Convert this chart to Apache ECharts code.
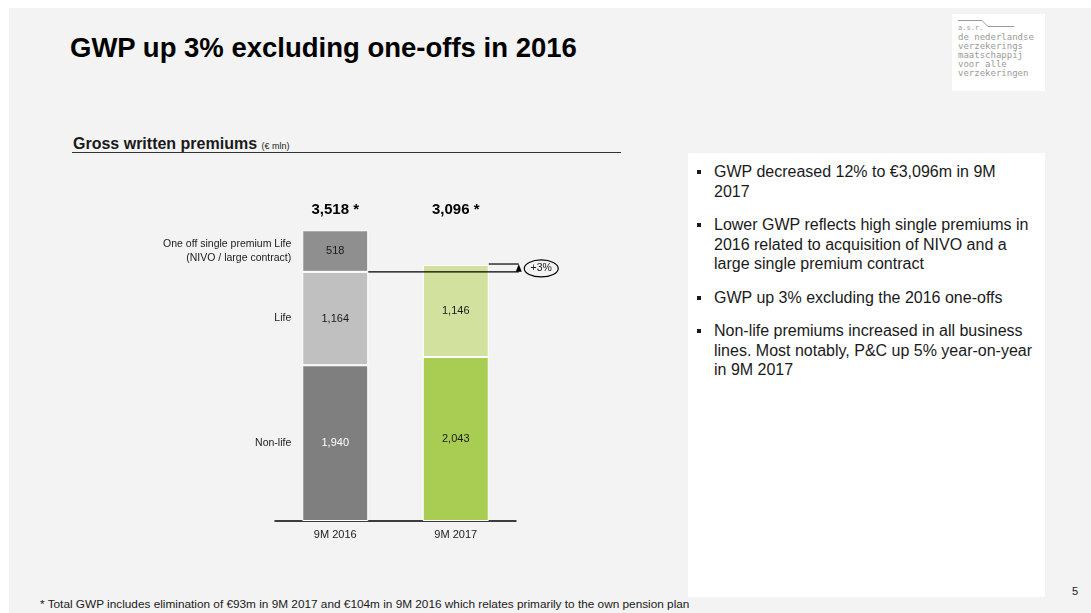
<!DOCTYPE html>
<html><head><meta charset="utf-8">
<script src="https://cdn.jsdelivr.net/npm/echarts@6/dist/echarts.min.js"></script>
<style>
html,body{margin:0;padding:0;width:1091px;height:613px;background:#fff;overflow:hidden;font-family:"Liberation Sans",Arial,sans-serif;color:#1a1a1a;}
#bg{position:absolute;left:9px;top:8px;right:0;bottom:0;background:#f3f3f3;}
#chart{position:absolute;left:0;top:0;width:1091px;height:613px;z-index:2;}
.title{position:absolute;left:70px;top:34px;font-size:27.5px;line-height:28px;font-weight:bold;color:#000;white-space:nowrap;}
.logo{position:absolute;left:952px;top:14px;width:93px;height:77px;background:#fff;}
.logo .t{position:absolute;left:6px;top:9px;font-family:"DejaVu Sans Mono",monospace;font-size:9px;line-height:8.9px;color:#9a9a9a;white-space:pre;}
.logo .t .s{font-size:7px;}
.sub{position:absolute;left:73px;top:135px;font-size:16px;font-weight:bold;white-space:nowrap;line-height:18px;}
.sub small{font-size:9px;font-weight:normal;}
.rule{position:absolute;left:72px;top:152px;width:549px;height:1px;background:#333;}
.panel{position:absolute;left:688px;top:153px;width:357px;height:444px;background:#fff;}
.panel ul{margin:0;padding:9px 0 0 26px;list-style:none;}
.panel li{position:relative;font-size:16px;line-height:19.5px;margin-bottom:14px;white-space:nowrap;color:#1a1a1a;}
.panel li:before{content:"";position:absolute;left:-17px;top:8px;width:4px;height:4px;background:#1a1a1a;}
.foot{position:absolute;left:40px;top:597px;font-size:11.8px;line-height:14px;white-space:nowrap;}
.pg{position:absolute;left:1072px;top:584px;font-size:11px;line-height:14px;}
</style></head>
<body>
<div id="bg"></div>
<div class="title">GWP up 3% excluding one-offs in 2016</div>
<div class="logo">
<svg width="93" height="20" style="position:absolute;left:0;top:0"><polyline points="6,6.5 30,6.5 36,12.5 62,12.5" fill="none" stroke="#9a9a9a" stroke-width="1"/></svg>
<div class="t"><span class="s">a.s.r.</span>
de nederlandse
verzekerings
maatschappij
voor alle
verzekeringen</div></div>
<div class="sub">Gross written premiums <small>(€ mln)</small></div>
<div class="rule"></div>
<div class="panel"><ul>
<li>GWP decreased 12% to €3,096m in 9M<br>2017</li>
<li>Lower GWP reflects high single premiums in<br>2016 related to acquisition of NIVO and a<br>large single premium contract</li>
<li>GWP up 3% excluding the 2016 one-offs</li>
<li>Non-life premiums increased in all business<br>lines. Most notably, P&amp;C up 5% year-on-year<br>in 9M 2017</li>
</ul></div>
<div class="foot">* Total GWP includes elimination of €93m in 9M 2017 and €104m in 9M 2016 which relates primarily to the own pension plan</div>
<div class="pg">5</div>
<div id="chart"></div>
<script>
// ---- data ----
const categories = ['9M 2016', '9M 2017'];
const totalLabels = ['3,518 *', '3,096 *'];
const nonLife = [1940, 2043];
const life = [1164, 1146];
const oneOff = [518, null];
const segmentNames = ['Non-life', 'Life', 'One off single premium Life\n(NIVO / large contract)'];
const growthLabel = '+3%';

// ---- styles ----
const BAR_W = 66;
const TXT = '#1a1a1a';
const colNonLife = ['#7f7f7f', '#a9cd52'];
const colLife = ['#c0c0c0', '#d3e19e'];
const colOneOff = ['#8f8f8f', '#8f8f8f'];
const lblNonLife = ['#ffffff', TXT];
const lblLife = [TXT, TXT];
const lblOneOff = [TXT, TXT];

const fmt = v => Number(v).toLocaleString('en-US');
function mk(vals, cols, lcols) {
  return vals.map((v, i) => v == null ? '-' : ({
    value: v, itemStyle: { color: cols[i] }, label: { color: lcols[i] }
  }));
}
const barBase = {
  type: 'bar', stack: 'gwp', barWidth: BAR_W,
  itemStyle: { borderColor: '#ffffff', borderWidth: 1 },
  label: { show: true, position: 'inside', fontSize: 11, formatter: p => fmt(p.value) }
};

// segment bounds of first bar for left labels
const seg0 = [nonLife[0], life[0], oneOff[0]];
const segData = [];
let acc = 0;
seg0.forEach((v, i) => { segData.push([0, acc, acc + v]); acc += v; });

const lifeTop2016 = nonLife[0] + life[0];
const top2017 = nonLife[1] + life[1];

const chart = echarts.init(document.getElementById('chart'), null, { renderer: 'canvas' });
chart.setOption({
  backgroundColor: 'transparent',
  animation: false,
  grid: { left: 275, right: 575, top: 224, bottom: 92 },
  xAxis: [{
    type: 'category', data: categories, position: 'bottom',
    axisLine: { lineStyle: { color: '#000', width: 1.5 } },
    axisTick: { show: false },
    axisLabel: { color: TXT, fontSize: 11, margin: 8, fontFamily: 'Liberation Sans' }
  }, {
    type: 'category', data: totalLabels, position: 'top',
    axisLine: { show: false }, axisTick: { show: false },
    axisLabel: { color: '#000', fontSize: 15, fontWeight: 'bold', margin: 7, fontFamily: 'Liberation Sans' }
  }],
  yAxis: { type: 'value', min: 0, max: 3700, show: false, splitLine: { show: false } },
  series: [
    Object.assign({}, barBase, { name: 'Non-life', data: mk(nonLife, colNonLife, lblNonLife) }),
    Object.assign({}, barBase, { name: 'Life', data: mk(life, colLife, lblLife) }),
    Object.assign({}, barBase, { name: 'One-off', data: mk(oneOff, colOneOff, lblOneOff) }),
    {
      type: 'custom', name: 'segment names', encode: { x: 0, y: [1, 2] }, z: 5,
      data: segData,
      renderItem: (params, api) => {
        const c = api.value(0);
        const yb = api.coord([c, api.value(1)]);
        const yt = api.coord([c, api.value(2)]);
        return {
          type: 'text',
          style: {
            text: segmentNames[params.dataIndex],
            x: yb[0] - BAR_W / 2 - 11, y: (yb[1] + yt[1]) / 2,
            align: 'right', verticalAlign: 'middle',
            fontSize: 10.5, lineHeight: 14, fill: TXT, fontFamily: 'Liberation Sans'
          }
        };
      }
    },
    {
      type: 'custom', name: 'growth', encode: { x: 0, y: [1, 2] }, z: 6,
      data: [[1, lifeTop2016, top2017]],
      renderItem: (params, api) => {
        const p0 = api.coord([0, api.value(1)]);
        const p1 = api.coord([1, api.value(2)]);
        const y1 = p0[1];
        const y2 = p1[1] - 1;
        const x0 = p0[0] + BAR_W / 2;
        const x1 = p1[0] + BAR_W / 2;
        const xe = x1 + 30;
        const cx = xe + 22.5, cy = (y1 + y2) / 2 + 0.5;
        return {
          type: 'group',
          children: [
            { type: 'line', shape: { x1: x0, y1: y1, x2: xe, y2: y1 }, style: { stroke: '#000', lineWidth: 1.2 } },
            { type: 'line', shape: { x1: x1, y1: y2, x2: xe, y2: y2 }, style: { stroke: '#000', lineWidth: 1.2 } },
            { type: 'polygon', shape: { points: [[xe - 3, y1], [xe + 3, y1], [xe, y2]] }, style: { fill: '#000' } },
            { type: 'ellipse', shape: { cx: cx, cy: cy, rx: 17, ry: 8.5 }, style: { fill: 'none', stroke: '#000', lineWidth: 1.2 } },
            { type: 'text', style: { text: growthLabel, x: cx, y: cy, align: 'center', verticalAlign: 'middle', fontSize: 10.5, fill: TXT, fontFamily: 'Liberation Sans' } }
          ]
        };
      }
    }
  ]
});
</script>
</body></html>
